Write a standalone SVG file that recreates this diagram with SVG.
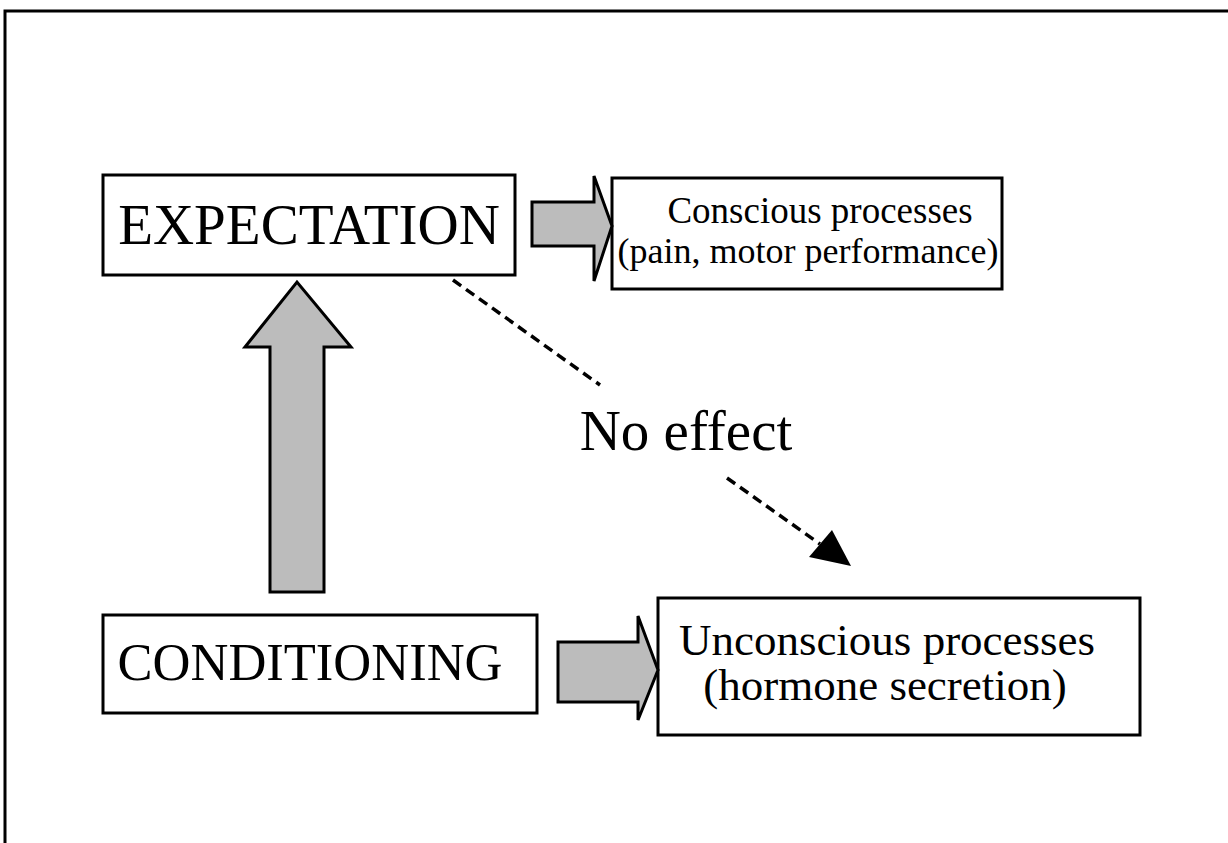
<svg xmlns="http://www.w3.org/2000/svg" width="1228" height="843" viewBox="0 0 1228 843">
<style>
.box{fill:#fff;stroke:#000;stroke-width:3}
.big{font-family:"Liberation Serif","Times New Roman",serif;fill:#000}
.fat{fill:#bcbcbc;stroke:#000;stroke-width:3;stroke-linejoin:miter}
.dash{fill:none;stroke:#000;stroke-width:3.5;stroke-dasharray:10 6}
</style>
<rect width="1228" height="843" fill="#fff"/>
<path d="M5,843 L5,11 L1228,11" fill="none" stroke="#000" stroke-width="3"/>
<g id="expectation">
<rect class="box" x="103" y="175" width="412" height="100"/>
<text class="big" x="309" y="244" font-size="57" text-anchor="middle">EXPECTATION</text>
</g>
<g id="conscious">
<rect class="box" x="612" y="178" width="390" height="111"/>
<text class="big" x="820" y="223" font-size="37" text-anchor="middle">Conscious processes</text>
<text class="big" x="808" y="263" font-size="36" text-anchor="middle">(pain, motor performance)</text>
</g>
<g id="conditioning">
<rect class="box" x="103" y="615" width="434" height="98"/>
<text class="big" x="310" y="680" font-size="52.5" text-anchor="middle">CONDITIONING</text>
</g>
<g id="unconscious">
<rect class="box" x="658" y="598" width="482" height="137"/>
<text class="big" x="887" y="655" font-size="45" text-anchor="middle">Unconscious processes</text>
<text class="big" x="885" y="700" font-size="45" text-anchor="middle">(hormone secretion)</text>
</g>
<g id="no-effect">
<text class="big" x="686" y="450" font-size="57" text-anchor="middle">No effect</text>
</g>
<g id="connectors">
<path class="fat" d="M532,202 L594,202 L594,176 L612,226 L594,281 L594,246 L532,246 Z"/>
<path class="fat" d="M270,592 L270,347 L245,347 L297,282 L351,347 L324,347 L324,592 Z"/>
<path class="fat" d="M558,642 L638,642 L638,616 L658,670 L638,720 L638,702 L558,702 Z"/>
<line class="dash" x1="453" y1="280" x2="600" y2="385"/>
<line class="dash" x1="727" y1="478" x2="820" y2="544"/>
<path d="M851,566 L809,557 L832,530 Z" fill="#000"/>
</g>
</svg>
